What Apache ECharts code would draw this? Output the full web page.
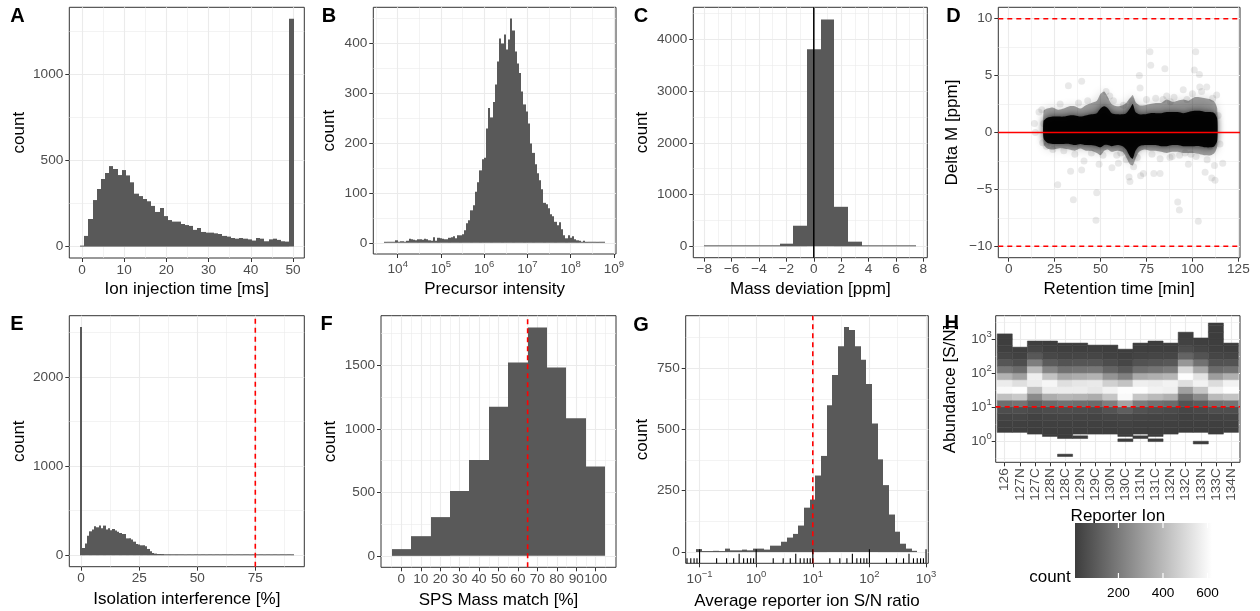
<!DOCTYPE html>
<html><head><meta charset="utf-8">
<script src="https://cdn.jsdelivr.net/npm/echarts@6/dist/echarts.min.js"></script>
<style>html,body{margin:0;padding:0;background:#fff}#c{width:1260px;height:611px}</style>
</head><body><div id="c"></div><script>
// ---------------- DATA ----------------
// A: ion injection time histogram
const aBinStart = -0.47, aBinWidth = 0.993;
const aCounts = [3,62,160,270,334,392,427,467,450,415,444,413,373,307,293,276,263,236,201,224,177,154,145,145,131,125,120,97,108,85,81,81,77,73,62,58,50,46,50,46,42,35,50,46,31,42,46,39,31,29,1322];
const aXTicks = [0,10,20,30,40,50], aYTicks = [0,500,1000];
// B: precursor intensity (log10) histogram
const bBinStart = 3.69, bBinWidth = 0.0511;
const bCounts = [1,1,1,2,2,5,1,3,3,2,4,8,7,6,5,7,7,6,8,7,5,4,11,4,10,9,8,7,7,10,11,13,9,15,15,
  17,25,39,45,65,75,102,121,145,167,170,229,270,251,282,317,363,409,399,417,387,407,449,425,383,359,340,303,277,263,
  239,199,180,157,139,125,107,80,77,69,57,53,42,35,41,27,15,9,15,10,13,7,5,4,2,4,1,1,1,1,1,1,1,1,2];
const bXTicks = [4,5,6,7,8,9], bYTicks = [0,100,200,300,400];
// C: mass deviation histogram
const cEdges = [-8,-7.5,-6.5,-5.5,-4.5,-3.5,-2.5,-1.5,-0.5,0.5,1.5,2.5,3.5,4.5,5.5,6.5,7.5];
const cCounts = [2,1,1,2,3,8,51,398,3807,4385,764,90,10,4,2,1];
const cXTicks = [-8,-6,-4,-2,0,2,4,6,8], cYTicks = [0,1000,2000,3000,4000];
const cVLine = 0;
// D: delta M vs retention time (dense band envelopes + sparse points)
const dRt      = [19,21,24,27,30,33,36,39,42,45,48,50,52,54,56,59,62,64,66,67.5,69,71,74,77,80,83,86,89,92,95,98,101,104,107,110,112,113.5];
const dInnerLo = [-0.5,-0.9,-1.0,-1.0,-1.0,-1.0,-1.1,-1.0,-1.1,-1.1,-1.2,-1.3,-1.1,-1.1,-1.2,-1.1,-1.2,-1.5,-2.1,-2.3,-1.6,-1.2,-1.1,-1.1,-1.1,-1.2,-1.2,-1.1,-1.1,-1.2,-1.2,-1.2,-1.2,-1.3,-1.3,-1.2,-0.7];
const dInnerHi = [1.0,1.3,1.4,1.4,1.4,1.5,1.5,1.4,1.5,1.6,1.7,2.1,2.3,2.1,1.7,1.6,1.6,1.7,2.1,2.5,1.8,1.6,1.6,1.7,1.7,1.7,1.8,1.8,1.8,1.7,1.8,1.9,1.9,1.8,1.8,1.7,1.2];
const dOuterLo = [-1.0,-1.4,-1.5,-1.4,-1.4,-1.5,-1.6,-1.4,-1.6,-1.6,-1.8,-2.0,-1.6,-1.5,-1.7,-1.6,-1.7,-2.2,-2.8,-2.9,-2.3,-1.7,-1.5,-1.6,-1.6,-1.7,-1.8,-1.7,-1.7,-1.8,-1.8,-1.8,-1.9,-2.0,-2.0,-1.8,-1.2];
const dOuterHi = [1.9,2.1,2.2,2.0,2.1,2.3,2.3,2.1,2.4,2.6,2.8,3.4,3.6,3.1,2.5,2.3,2.4,2.6,3.0,3.3,2.7,2.4,2.4,2.5,2.6,2.6,2.9,2.7,2.8,2.9,2.8,3.1,3.1,3.0,2.9,2.7,2.1];
const dPoints = [[14.0,0.8],[14.5,0.0],[16.5,1.8],[18,2.0],[18.5,-0.9],[19,0.8],[20.5,-1.2],[26.7,-4.6],[32.5,4.1],[33.7,-3.4],[35.2,-5.9],[36,-1.9],[39.7,4.5],[39.7,-3.3],[41,-2.5],[44.3,-0.9],[47.9,-5.3],[47.5,-7.7],[49.2,-2.8],[51.3,-2.0],[53,3.6],[56.2,-3.1],[58.8,-2.0],[59.7,-2.7],[62.4,2.4],[65.5,-3.9],[66,-4.3],[67,2.8],[71.1,5.0],[71.5,3.9],[71.8,-3.8],[73.3,-3.6],[76.9,7.1],[77.3,5.9],[79,-3.6],[82.4,-3.6],[82.4,-2.3],[84,2.9],[85,5.6],[87.8,-2.2],[89,-2.1],[92,-6.1],[92.9,-6.8],[95,3.75],[97,2.9],[97.8,-2.8],[99.2,-1.9],[101,5.5],[101.8,7.1],[103.2,-7.8],[103.8,5.1],[104,4.0],[106.9,-3.5],[107.8,4.0],[109.6,-1.2],[110.5,-4.0],[112.3,-4.2],[113.2,3.3],[116.5,-2.7],[114,1.5],[115,-1.0],[24,-1.5],[28,2.5],[30,-1.6],[38,2.6],[43,2.8],[45,-1.8],[55,3.2],[57,2.8],[61,-1.8],[64,-2.4],[68,-3.0],[70,-2.2],[75,2.9],[78,-1.9],[80,3.0],[86,3.2],[88,2.7],[90,3.1],[93,-2.0],[96,-1.8],[100,3.4],[102,-2.1],[105,3.6],[108,-2.4],[111,3.0],[112,-2.9]];
const dXTicks = [0,25,50,75,100,125], dYTicks = [-10,-5,0,5,10];
const dHLine = 0, dLimits = [-10, 10];
// E: isolation interference histogram
const eBinStart = -0.5, eBinWidth = 1.0;
const eCounts = [2560,82,131,220,269,288,325,314,333,303,333,288,303,280,295,277,265,250,239,239,190,190,176,153,127,120,112,112,101,71,45,26,19,
  15,14,14,13,13,12,12,11,12,10,10,12,11,9,10,9,8,7,6,5,6,5,8,5,4,3,4,3,3,3,2,3,2,2,3,1,2,2,1,2,3,1,2,1,1,2,1,2,1,1,1,2,1,1,1,1,1,1,1];
const eXTicks = [0,25,50,75], eYTicks = [0,1000,2000];
const eVLine = 75;
// F: SPS mass match histogram
const fBinStart = -5, fBinWidth = 10;
const fCounts = [53,155,305,510,755,1174,1521,1797,1482,1082,703];
const fXTicks = [0,10,20,30,40,50,60,70,80,90,100], fYTicks = [0,500,1000,1500];
const fVLine = 65;
// G: average reporter ion S/N (log10) histogram
const gBinStart = -1.055, gBinWidth = 0.1;
const gCounts = [12,2,2,5,3,14,7,7,10,7,14,14,10,26,26,42,59,74,108,181,214,312,392,599,722,839,918,906,839,784,685,524,378,273,153,83,34,14,5];
const gXTicks = [-1,0,1,2,3], gYTicks = [0,250,500,750];
const gVLine = 1; // log10(10)
const gLogDecades = [-2,-1,0,1,2,3], gLogMantissa = [1,2,3,4,5,6,7,8,9];
// H: reporter ion abundance (log10 S/N) 2D bins
const hIons = ['126','127N','127C','128N','128C','129N','129C','130N','130C','131N','131C','132N','132C','133N','133C','134N'];
const hBinStart = 0.0, hBinWidth = 0.2;
const hCounts = [
  [0,8,15,28,55,160,420,600,560,380,190,85,35,15,8,5,0,0],
  [0,8,16,30,60,180,450,615,520,320,150,60,22,8,0,0,0,0],
  [0,6,12,22,45,110,250,420,560,570,400,210,90,35,12,0,0,0],
  [5,8,15,28,55,150,360,560,590,430,230,100,40,15,6,0,0,0],
  [5,8,15,30,60,170,390,560,520,340,170,75,30,12,5,0,0,0],
  [0,8,15,28,55,160,380,560,540,360,180,80,32,12,5,0,0,0],
  [0,7,14,26,50,150,360,540,550,380,190,85,35,12,5,0,0,0],
  [0,8,16,32,75,210,440,580,470,280,130,55,20,8,5,0,0,0],
  [5,10,20,40,110,330,600,615,430,220,90,35,14,6,0,0,0,0],
  [0,8,16,30,70,200,440,615,570,350,160,70,28,10,5,0,0,0],
  [5,8,15,28,60,170,400,580,560,370,180,80,32,12,5,0,0,0],
  [0,7,14,26,50,150,370,570,580,390,200,90,35,12,5,0,0,0],
  [0,5,10,18,32,70,160,320,520,615,500,290,130,55,22,8,0,0],
  [0,6,12,22,42,100,250,440,580,530,340,170,75,30,10,5,0,0],
  [0,6,12,24,58,165,400,580,510,310,150,70,32,16,9,6,5,5],
  [0,8,15,28,60,180,430,615,580,370,170,75,30,12,5,0,0,0]
];
const hLo = [0.25,0.25,0.19,0.13,0.07,0.19,0.19,0.19,0.13,0.19,0.13,0.19,0.25,0.25,0.19,0.25];
const hHi = [3.15,2.76,2.94,2.94,2.88,2.88,2.82,2.82,2.70,2.88,2.94,2.88,3.20,3.03,3.47,2.88];
const hIso = [[4,-0.46,-0.39,5],[5,0.07,0.15,5],[8,-0.02,0.06,5],[9,0.07,0.15,5],[10,-0.02,0.06,5],[13,-0.09,-0.01,5]];
const hYTicks = [0,1,2,3];
const hHLine = 1;
const heatRange = [5, 620], legendTicks = [200, 400, 600];

// ---------------- STYLE ----------------
const FONT = '"Liberation Sans", Arial, Helvetica, sans-serif';
const LABEL_COL = '#4D4D4D', TICK_COL = '#333333', GRID_COL = '#EBEBEB', BAR_COL = '#595959';
const HEAT_LOW = '#3d3d3d', HEAT_HIGH = '#FFFFFF', RED = '#FF0000';
const LOG_RICH = {
  b: {fontSize: 13.6, color: LABEL_COL, fontFamily: FONT, lineHeight: 20},
  s: {fontSize: 9.5, color: LABEL_COL, fontFamily: FONT, verticalAlign: 'top', lineHeight: 9}
};
function num(v) { return v < 0 ? '\u2212' + (-v) : String(v); }
function sup(v) { return '{b|10}{s|' + (v < 0 ? '\u2212' + (-v) : String(v)) + '}'; }
function mids(t, r) { // minor gridline positions halfway between (extended) major ticks
  const st = t[1] - t[0], out = [];
  for (let v = t[0] - st / 2; v <= r[1]; v += st) if (v >= r[0]) out.push(+v.toFixed(6));
  return out;
}

const grids = [], xAxes = [], yAxes = [], series = [];
function axisPair(gi, a) {
  const major = {
    type: 'value', gridIndex: gi, min: a.range[0], max: a.range[1],
    minInterval: a.step, maxInterval: a.step, splitNumber: Math.max(1, Math.round((a.range[1] - a.range[0]) / a.step)),
    axisLine: {show: false, onZero: false}, silent: true,
    axisTick: {show: true, length: 4, customValues: a.ticks, lineStyle: {color: TICK_COL, width: 1}},
    axisLabel: {customValues: a.ticks, color: LABEL_COL, fontSize: 13.6, fontFamily: FONT, margin: a.margin,
      formatter: a.fmt || num, rich: a.rich, rotate: a.rotate || 0},
    splitLine: {show: true, lineStyle: {color: GRID_COL, width: 1.1}},
    name: a.name, nameLocation: 'middle', nameGap: a.nameGap, nameMoveOverlap: false,
    nameTextStyle: {color: '#000', fontSize: 17, fontFamily: FONT}
  };
  const mv = a.minor || [];
  const ms = a.step / 2;
  const minor = {
    type: 'value', gridIndex: gi, min: a.range[0], max: a.range[1],
    minInterval: ms, maxInterval: ms, splitNumber: Math.max(1, Math.round((a.range[1] - a.range[0]) / ms)),
    axisLine: {show: false, onZero: false}, silent: true,
    axisTick: {show: false, customValues: mv}, axisLabel: {show: false, customValues: mv},
    splitLine: {show: mv.length > 0, lineStyle: {color: GRID_COL, width: 0.6}}
  };
  return [major, minor];
}
function panel(box, x, y) {
  const gi = grids.length;
  grids.push({left: box[0], top: box[1], width: box[2], height: box[3], show: true, borderColor: '#333333', borderWidth: 1,
    backgroundColor: '#fff', containLabel: false, outerBoundsMode: 'none'});
  const xs = axisPair(gi, x), ys = axisPair(gi, y);
  xs[0].position = 'bottom'; xs[1].position = 'bottom';
  ys[0].position = 'left'; ys[1].position = 'left';
  xAxes.push(xs[0], xs[1]); yAxes.push(ys[0], ys[1]);
  return gi * 2;
}
function histData(start, width, counts) { return counts.map((c, i) => [start + i * width, start + (i + 1) * width, c]); }
function histSeries(ai, data) {
  return {type: 'custom', xAxisIndex: ai, yAxisIndex: ai, data: data, silent: true, encode: {x: [0, 1], y: 2},
    renderItem: function (p, api) {
      const c = api.value(2); if (!(c > 0)) return;
      const a = api.coord([api.value(0), 0]), b = api.coord([api.value(1), c]);
      const x0 = Math.round(a[0]); let x1 = Math.round(b[0]); if (x1 <= x0) x1 = x0 + 1;
      let h = a[1] - b[1]; if (h < 1) h = 1;
      return {type: 'rect', shape: {x: x0, y: a[1] - h, width: x1 - x0, height: h}, style: {fill: BAR_COL}};
    }};
}
function refLine(ai, pts, color, dashed, width) {
  return {type: 'line', xAxisIndex: ai, yAxisIndex: ai, data: pts, symbol: 'none', silent: true, z: 5,
    lineStyle: {color: color, width: width || 1.6, type: dashed ? [5, 4] : 'solid'}};
}

// ---------------- PANELS ----------------
const aR = {x: [-3.0, 52.69], y: [-66.1, 1388.1]};
const A = panel([69.3, 7.3, 235, 250.7],
  {range: aR.x, ticks: aXTicks, step: 10, minor: mids(aXTicks, aR.x), margin: 5, name: 'Ion injection time [ms]', nameGap: 23},
  {range: aR.y, ticks: aYTicks, step: 500, minor: mids(aYTicks, aR.y), margin: 6, name: 'count', nameGap: 41});
series.push(histSeries(A, histData(aBinStart, aBinWidth, aCounts)));

const bR = {x: [3.435, 9.05], y: [-22.45, 471.45]};
const B = panel([373.3, 7.3, 242.7, 246.7],
  {range: bR.x, ticks: bXTicks, step: 1, minor: mids(bXTicks, bR.x), margin: 5, fmt: sup, rich: LOG_RICH, name: 'Precursor intensity', nameGap: 27},
  {range: bR.y, ticks: bYTicks, step: 100, minor: mids(bYTicks, bR.y), margin: 6, name: 'count', nameGap: 35});
series.push(histSeries(B, histData(bBinStart, bBinWidth, bCounts)));

const cR = {x: [-8.8, 8.29], y: [-220, 4620]};
const C = panel([693.3, 7.3, 234, 250.4],
  {range: cR.x, ticks: cXTicks, step: 2, minor: mids(cXTicks, cR.x), margin: 5, name: 'Mass deviation [ppm]', nameGap: 23},
  {range: cR.y, ticks: cYTicks, step: 1000, minor: mids(cYTicks, cR.y), margin: 6, name: 'count', nameGap: 42});
series.push(histSeries(C, cCounts.map((c, i) => [cEdges[i], cEdges[i + 1], c])));
series.push(refLine(C, [[cVLine, cR.y[0]], [cVLine, cR.y[1]]], '#000000', false, 1.5));

const dR = {x: [-5.66, 125.9], y: [-11, 11]};
const D = panel([998.3, 7.3, 241.7, 250.4],
  {range: dR.x, ticks: dXTicks, step: 25, minor: mids(dXTicks, dR.x), margin: 5, name: 'Retention time [min]', nameGap: 23},
  {range: dR.y, ticks: dYTicks, step: 5, minor: mids(dYTicks, dR.y), margin: 6, name: 'Delta M [ppm]', nameGap: 37});
function bandSeries(ai, lo, hi, fill, blur, blurCol) {
  return {type: 'custom', xAxisIndex: ai, yAxisIndex: ai, data: [[dRt[0], lo[0]]], silent: true,
    renderItem: function (p, api) {
      const pts = [];
      for (let i = 0; i < dRt.length; i++) pts.push(api.coord([dRt[i], hi[i]]));
      for (let i = dRt.length - 1; i >= 0; i--) pts.push(api.coord([dRt[i], lo[i]]));
      return {type: 'polygon', shape: {points: pts, smooth: 0.25},
        style: {fill: fill, shadowBlur: blur, shadowColor: blurCol, shadowOffsetX: 0, shadowOffsetY: 0}};
    }};
}
series.push({type: 'scatter', xAxisIndex: D, yAxisIndex: D, data: dPoints, symbolSize: 7, silent: true,
  itemStyle: {color: 'rgba(0,0,0,0.11)'}});
series.push(bandSeries(D, dOuterLo, dOuterHi, 'rgba(0,0,0,0.35)', 10, 'rgba(0,0,0,0.45)'));
series.push(bandSeries(D, dInnerLo, dInnerHi, 'rgba(0,0,0,0.95)', 6, 'rgba(0,0,0,0.7)'));
series.push(refLine(D, [[dR.x[0], dHLine], [dR.x[1], dHLine]], RED, false, 1.6));
series.push(refLine(D, [[dR.x[0], dLimits[0]], [dR.x[1], dLimits[0]]], RED, true, 1.6));
series.push(refLine(D, [[dR.x[0], dLimits[1]], [dR.x[1], dLimits[1]]], RED, true, 1.6));

const eR = {x: [-5.1, 96.1], y: [-128, 2688]};
const E = panel([69.3, 315.7, 235, 251],
  {range: eR.x, ticks: eXTicks, step: 25, minor: mids(eXTicks, eR.x), margin: 5, name: 'Isolation interference [%]', nameGap: 24},
  {range: eR.y, ticks: eYTicks, step: 1000, minor: mids(eYTicks, eR.y), margin: 6, name: 'count', nameGap: 41});
series.push(histSeries(E, histData(eBinStart, eBinWidth, eCounts)));
series.push(refLine(E, [[eVLine, eR.y[0]], [eVLine, eR.y[1]]], RED, true, 1.6));

const fR = {x: [-10.5, 110.5], y: [-90, 1890]};
const F = panel([381, 315.7, 235, 251.6],
  {range: fR.x, ticks: fXTicks, step: 10, minor: mids(fXTicks, fR.x), margin: 5, name: 'SPS Mass match [%]', nameGap: 25},
  {range: fR.y, ticks: fYTicks, step: 500, minor: mids(fYTicks, fR.y), margin: 6, name: 'count', nameGap: 42});
series.push(histSeries(F, histData(fBinStart, fBinWidth, fCounts)));
series.push(refLine(F, [[fVLine, fR.y[0]], [fVLine, fR.y[1]]], RED, true, 1.6));

const gR = {x: [-1.245, 3.04], y: [-45.9, 963.9]};
const G = panel([685.7, 315.7, 242.6, 247.6],
  {range: gR.x, ticks: gXTicks, step: 1, minor: mids(gXTicks, gR.x), margin: 6, fmt: sup, rich: LOG_RICH, name: 'Average reporter ion S/N ratio', nameGap: 30},
  {range: gR.y, ticks: gYTicks, step: 250, minor: mids(gYTicks, gR.y), margin: 6, name: 'count', nameGap: 35});
series.push(histSeries(G, histData(gBinStart, gBinWidth, gCounts)));
series.push(refLine(G, [[gVLine, gR.y[0]], [gVLine, gR.y[1]]], RED, true, 1.6));
const gLogTicks = [];
gLogDecades.forEach(d => gLogMantissa.forEach(m => gLogTicks.push([Math.log10(m * Math.pow(10, d)), m === 1 ? 2 : (m === 5 ? 1 : 0)])));
series.push({type: 'custom', xAxisIndex: G, yAxisIndex: G, data: gLogTicks, silent: true, z: 6, encode: {x: 0},
  renderItem: function (p, api) {
    const cs = p.coordSys, v = api.value(0), k = api.value(1);
    const pt = api.coord([v, 0]);
    if (pt[0] < cs.x - 0.5 || pt[0] > cs.x + cs.width + 0.5) return;
    const yb = cs.y + cs.height, len = k === 2 ? 14 : (k === 1 ? 9.5 : 5);
    return {type: 'line', shape: {x1: pt[0], y1: yb, x2: pt[0], y2: yb - len}, style: {stroke: '#000', lineWidth: 1.1}};
  }});

const hR = {x: [-0.6, 15.6], y: [-0.63, 3.685]};
const H = panel([995.7, 315.7, 244.3, 146.6],
  {range: hR.x, ticks: hIons.map((n, i) => i), step: 1, minor: [], margin: 6, rotate: 90, fmt: v => hIons[Math.round(v)], name: 'Reporter Ion', nameGap: 46},
  {range: hR.y, ticks: hYTicks, step: 1, minor: mids(hYTicks, hR.y), margin: 4, fmt: sup, rich: LOG_RICH, name: 'Abundance [S/N]', nameGap: 37});
const hTiles = [];
hCounts.forEach((col, i) => col.forEach((c, j) => {
  if (c <= 0) return;
  const y0 = Math.max(hBinStart + j * hBinWidth, hLo[i]), y1 = Math.min(hBinStart + (j + 1) * hBinWidth, hHi[i]);
  if (y1 > y0) hTiles.push([i, y0, y1, c]);
}));
hIso.forEach(t => hTiles.push(t));
const tileIdx = series.length;
series.push({type: 'custom', xAxisIndex: H, yAxisIndex: H, data: hTiles, silent: true, encode: {x: 0, y: [1, 2]},
  renderItem: function (p, api) {
    const i = api.value(0);
    const a = api.coord([i - 0.5, api.value(2)]), b = api.coord([i + 0.5, api.value(1)]);
    const col = api.visual('color');
    return {type: 'rect', shape: {x: a[0], y: a[1], width: b[0] - a[0], height: b[1] - a[1]}, style: {fill: col, stroke: col, lineWidth: 0.5}};
  }});
series.push(refLine(H, [[hR.x[0], hHLine], [hR.x[1], hHLine]], RED, true, 1.6));

// Legend (colour bar) as its own small grid
const LG = grids.length;
grids.push({left: 1075, top: 523, width: 137, height: 55, show: false, containLabel: false, outerBoundsMode: 'none'});
xAxes.push({type: 'value', gridIndex: LG, min: heatRange[0], max: heatRange[1], axisLine: {show: false, onZero: false}, axisTick: {show: false, customValues: legendTicks},
  splitLine: {show: false}, axisLabel: {customValues: legendTicks, color: '#000', fontSize: 13.6, fontFamily: FONT, margin: 8}});
yAxes.push({type: 'value', gridIndex: LG, min: 0, max: 1, show: false});
const LA = xAxes.length - 1;
series.push({type: 'custom', xAxisIndex: LA, yAxisIndex: LA, data: [[heatRange[0], 0]], silent: true,
  renderItem: function (p, api) {
    const a = api.coord([heatRange[0], 1]), b = api.coord([heatRange[1], 0]);
    return {type: 'rect', shape: {x: a[0], y: a[1], width: b[0] - a[0], height: b[1] - a[1]},
      style: {fill: new echarts.graphic.LinearGradient(0, 0, 1, 0, [{offset: 0, color: HEAT_LOW}, {offset: 1, color: HEAT_HIGH}])}};
  }});
series.push({type: 'custom', xAxisIndex: LA, yAxisIndex: LA, data: legendTicks.map(v => [v, 0]), silent: true, z: 4,
  renderItem: function (p, api) {
    const a = api.coord([api.value(0), 1]), b = api.coord([api.value(0), 0]);
    return {type: 'group', children: [
      {type: 'line', shape: {x1: a[0], y1: a[1], x2: a[0], y2: a[1] + 5}, style: {stroke: '#fff', lineWidth: 1.2}},
      {type: 'line', shape: {x1: b[0], y1: b[1], x2: b[0], y2: b[1] - 5}, style: {stroke: '#fff', lineWidth: 1.2}}]};
  }});

const tags = [['A', 17.5, 16], ['B', 329, 16], ['C', 641, 16], ['D', 953.5, 16], ['E', 17, 324], ['F', 326.7, 324], ['G', 641, 325], ['H', 951.7, 323]];
const graphic = tags.map(t => ({type: 'text', x: t[1], y: t[2], z: 100,
  style: {text: t[0], fontSize: 20, fontWeight: 'bold', fontFamily: FONT, fill: '#000', align: 'center', verticalAlign: 'middle', textAlign: 'center', textVerticalAlign: 'middle'}}));
graphic.push({type: 'text', x: 1050, y: 577, z: 100,
  style: {text: 'count', fontSize: 17, fontFamily: FONT, fill: '#000', align: 'center', verticalAlign: 'middle', textAlign: 'center', textVerticalAlign: 'middle'}});

const chart = echarts.init(document.getElementById('c'), null, {renderer: 'canvas'});
chart.setOption({
  animation: false, backgroundColor: '#ffffff',
  textStyle: {fontFamily: FONT},
  grid: grids, xAxis: xAxes, yAxis: yAxes, series: series, graphic: graphic,
  visualMap: {type: 'continuous', show: false, min: heatRange[0], max: heatRange[1], dimension: 3, seriesIndex: [tileIdx],
    inRange: {color: [HEAT_LOW, HEAT_HIGH]}}
});
</script></body></html>
